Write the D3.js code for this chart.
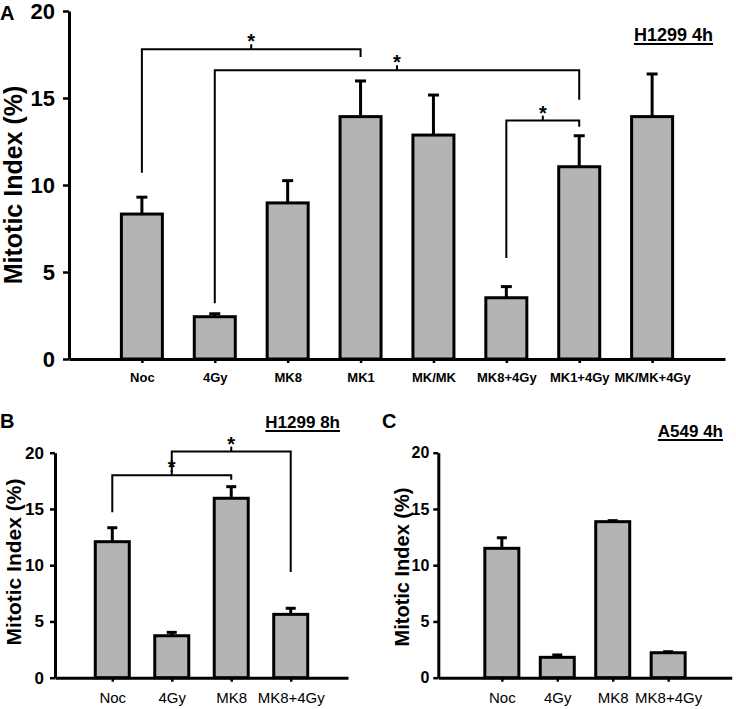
<!DOCTYPE html>
<html>
<head>
<meta charset="utf-8">
<script src="https://cdn.jsdelivr.net/npm/d3@7"></script>
<style>
  html, body { margin: 0; padding: 0; background: #fff; }
  svg { display: block; font-family: "Liberation Sans", Arial, sans-serif; }
</style>
</head>
<body>
<svg id="chart" width="736" height="709"></svg>
<script>
// ---------- Data ----------
const yTicks = [0, 5, 10, 15, 20];

// Panel A: H1299 4h
const catsA = ["Noc", "4Gy", "MK8", "MK1", "MK/MK", "MK8+4Gy", "MK1+4Gy", "MK/MK+4Gy"];
const meanA = [8.33, 2.43, 8.97, 13.93, 12.87, 3.52, 11.05, 13.93];
const errA  = [0.97, 0.17, 1.28, 2.05, 2.3, 0.64, 1.78, 2.45];
const brFromA = ["Noc", "4Gy", "MK8+4Gy"];
const brToA   = ["MK1", "MK1+4Gy", "MK1+4Gy"];
const brYA    = [17.8, 16.6, 13.7];
const brLegFromA = [10.7, 3.2, 5.8];
const brLegToA   = [17.35, 14.9, 13.35];

// Panel B: H1299 8h
const catsB = ["Noc", "4Gy", "MK8", "MK8+4Gy"];
const meanB = [12.09, 3.73, 15.95, 5.63];
const errB  = [1.24, 0.3, 1.03, 0.54];
const brFromB = ["Noc", "4Gy"];
const brToB   = ["MK8", "MK8+4Gy"];
const brYB    = [18.0, 20.1];
const brLegFromB = [14.7, 18.3];
const brLegToB   = [17.6, 9.4];

// Panel C: A549 4h
const catsC = ["Noc", "4Gy", "MK8", "MK8+4Gy"];
const meanC = [11.5, 1.81, 13.87, 2.22];
const errC  = [0.94, 0.21, 0.09, 0.09];

// ---------- Drawing ----------
const svg = d3.select("#chart");
const FILL = "#b4b4b4";

function panel(opt) {
  const g = svg.append("g");
  const x = d3.scalePoint().domain(opt.cats).range([opt.x0, opt.x1]).padding(opt.pad);
  const y = d3.scaleLinear().domain([0, 20]).range([opt.yBottom, opt.yTop]);

  // bars
  const bw = opt.barW;
  opt.cats.forEach((c, i) => {
    const cx = x(c);
    const top = y(opt.mean[i]);
    const et = y(opt.mean[i] + opt.err[i]);
    g.append("line").attr("x1", cx).attr("x2", cx).attr("y1", top).attr("y2", et)
      .attr("stroke", "#000").attr("stroke-width", 3);
    g.append("line").attr("x1", cx - opt.capW / 2).attr("x2", cx + opt.capW / 2)
      .attr("y1", et).attr("y2", et).attr("stroke", "#000").attr("stroke-width", 3);
    g.append("rect").attr("x", cx - bw / 2).attr("y", top)
      .attr("width", bw).attr("height", y(0) - top)
      .attr("fill", FILL).attr("stroke", "#000").attr("stroke-width", 3);
  });

  // axes
  const ya = d3.axisLeft(y).tickValues(yTicks).tickSize(opt.yTickSize).tickSizeOuter(0).tickPadding(opt.yPad);
  const yg = g.append("g").attr("transform", `translate(${opt.x0},0)`).call(ya);
  yg.select(".domain").attr("stroke-width", 3);
  yg.selectAll(".tick line").attr("stroke-width", 2.5);
  yg.selectAll(".tick text").attr("font-size", opt.yTickFont).attr("font-weight", "bold")
    .attr("font-family", "Liberation Sans, Arial, sans-serif").attr("fill", "#000");

  const xa = d3.axisBottom(x).tickSize(4).tickSizeOuter(0).tickPadding(opt.xPad);
  const xg = g.append("g").attr("transform", `translate(0,${opt.yBottom})`).call(xa);
  xg.select(".domain").attr("stroke-width", 3);
  xg.selectAll(".tick line").attr("stroke-width", 2.5);
  xg.selectAll(".tick text").attr("font-size", opt.xTickFont).attr("font-weight", opt.xTickWeight)
    .attr("font-family", "Liberation Sans, Arial, sans-serif").attr("fill", "#000");

  // y label
  g.append("text").attr("transform", `translate(${opt.labX},${opt.labY}) rotate(-90)`)
    .attr("text-anchor", "middle").attr("font-size", opt.labFont).attr("font-weight", "bold")
    .text("Mitotic Index (%)");

  // panel letter
  g.append("text").attr("x", opt.letterX).attr("y", opt.letterY)
    .attr("font-size", 20).attr("font-weight", "bold").text(opt.letter);

  // title with underline
  const t = g.append("text").attr("x", opt.titleX).attr("y", opt.titleY)
    .attr("font-size", opt.titleFont).attr("font-weight", "bold").attr("text-anchor", "end")
    .text(opt.title);
  const bb = t.node().getBBox();
  g.append("line").attr("x1", bb.x).attr("x2", bb.x + bb.width)
    .attr("y1", opt.titleY + 3).attr("y2", opt.titleY + 3)
    .attr("stroke", "#000").attr("stroke-width", 1.8);

  // significance brackets
  if (opt.brFrom) {
    opt.brFrom.forEach((f, i) => {
      const xa1 = x(f), xb1 = x(opt.brTo[i]);
      const yy = y(opt.brY[i]);
      const path = d3.path();
      path.moveTo(xa1, y(opt.brLegFrom[i]));
      path.lineTo(xa1, yy);
      path.lineTo(xb1, yy);
      path.lineTo(xb1, y(opt.brLegTo[i]));
      g.append("path").attr("d", path.toString()).attr("fill", "none")
        .attr("stroke", "#000").attr("stroke-width", 2);
      const mx = (xa1 + xb1) / 2;
      g.append("line").attr("x1", mx).attr("x2", mx).attr("y1", yy).attr("y2", yy - 5)
        .attr("stroke", "#000").attr("stroke-width", 2);
      g.append("text").attr("x", mx).attr("y", yy - 1).attr("text-anchor", "middle")
        .attr("font-size", 20).attr("font-weight", "bold").text("*");
    });
  }
}

panel({
  cats: catsA, mean: meanA, err: errA,
  x0: 69, x1: 725, pad: 1, yTop: 11, yBottom: 359,
  barW: 41, capW: 11, yTickSize: 6, yPad: 8, xPad: 10,
  yTickFont: 22, xTickFont: 13, xTickWeight: "bold",
  labX: 22, labY: 185, labFont: 25,
  letter: "A", letterX: 0, letterY: 20,
  title: "H1299 4h", titleX: 713, titleY: 41, titleFont: 18,
  brFrom: brFromA, brTo: brToA, brY: brYA, brLegFrom: brLegFromA, brLegTo: brLegToA
});

panel({
  cats: catsB, mean: meanB, err: errB,
  x0: 55, x1: 348, pad: 0.963, yTop: 452.7, yBottom: 677.7,
  barW: 34, capW: 10, yTickSize: 5, yPad: 6, xPad: 11,
  yTickFont: 17, xTickFont: 15, xTickWeight: "normal",
  labX: 21, labY: 562, labFont: 21,
  letter: "B", letterX: 0, letterY: 428,
  title: "H1299 8h", titleX: 340, titleY: 428, titleFont: 17,
  brFrom: brFromB, brTo: brToB, brY: brYB, brLegFrom: brLegFromB, brLegTo: brLegToB
});

panel({
  cats: catsC, mean: meanC, err: errC,
  x0: 438.3, x1: 731.7, pad: 1.146, yTop: 452.7, yBottom: 677.7,
  barW: 34, capW: 10, yTickSize: 5, yPad: 4, xPad: 11,
  yTickFont: 16, xTickFont: 15, xTickWeight: "normal",
  labX: 409, labY: 567, labFont: 20,
  letter: "C", letterX: 382, letterY: 428,
  title: "A549 4h", titleX: 723, titleY: 437, titleFont: 17
});
</script>
</body>
</html>
